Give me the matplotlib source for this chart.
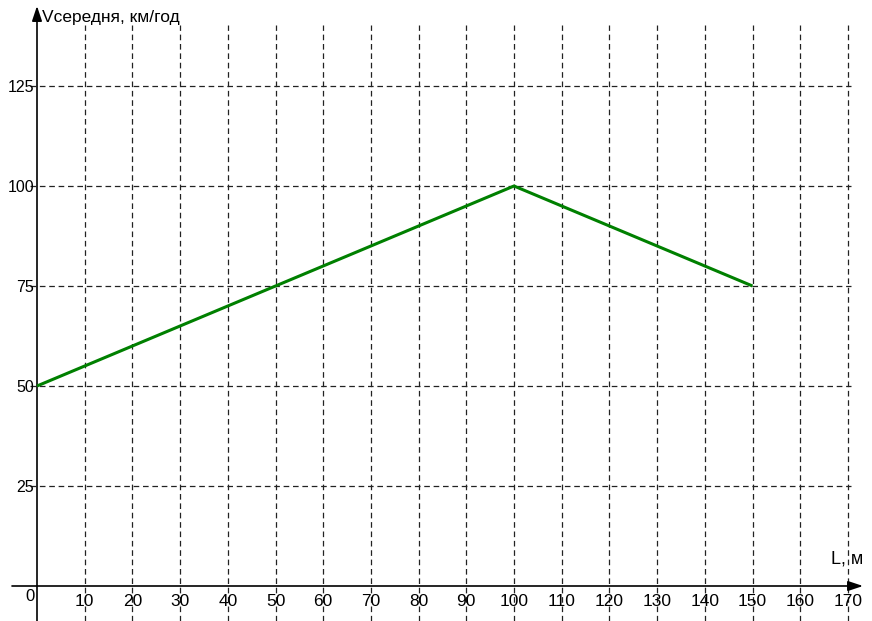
import matplotlib.pyplot as plt

# data
distance = [0, 100, 150]
speed = [50, 100, 75]
x_ticks = list(range(10, 180, 10))
y_ticks = [25, 50, 75, 100, 125]

plt.rcParams['font.family'] = ['Liberation Sans', 'DejaVu Sans']

fig = plt.figure(figsize=(8.72, 6.21), dpi=100)
ax = fig.add_axes([0, 0, 1, 1])
ax.set_axis_off()

# pixel mapping: x = 37 + v*4.77, y = 586 - v*4
sx, sy = 4.77, 4.0
ax.set_xlim(-37 / sx, (872 - 37) / sx)
ax.set_ylim((586 - 621) / sy, 586 / sy)

y_bot = (586 - 621) / sy
grid_kw = dict(color='#222222', lw=0.9, ls=(0, (4.5, 3)), zorder=1)
for v in x_ticks:
    ax.plot([v, v], [y_bot, (586 - 25) / sy], **grid_kw)
    ax.text(v, -3.8, str(v), ha='center', va='center', fontsize=12.5, zorder=3)
for v in y_ticks:
    ax.plot([-7 / sx, 170.6], [v, v], **grid_kw)
    ax.text(-3 / sx, v - 0.3, str(v), ha='right', va='center', fontsize=11.5, zorder=3)
ax.text(-7 / sx, -2.6, '0', ha='center', va='center', fontsize=12)

# axes with arrows
arrow_kw = dict(arrowstyle='-|>,head_length=0.9,head_width=0.3', color='black',
                lw=1.2, mutation_scale=10, shrinkA=0, shrinkB=0)
ax.annotate('', xy=(0, (586 - 6) / sy), xytext=(0, y_bot), arrowprops=arrow_kw)
ax.annotate('', xy=((863 - 37) / sx, 0), xytext=(-25 / sx, 0), arrowprops=arrow_kw)

ax.text(5 / sx, (586 - 22) / sy, 'Vсередня, км/год', ha='left', va='baseline', fontsize=12.5)
ax.text((831 - 37) / sx, (586 - 564) / sy, 'L, м', ha='left', va='baseline', fontsize=13)

ax.plot(distance, speed, color='#008000', lw=2.2, zorder=4, solid_capstyle='butt')

fig.savefig('out.png', dpi=100)
